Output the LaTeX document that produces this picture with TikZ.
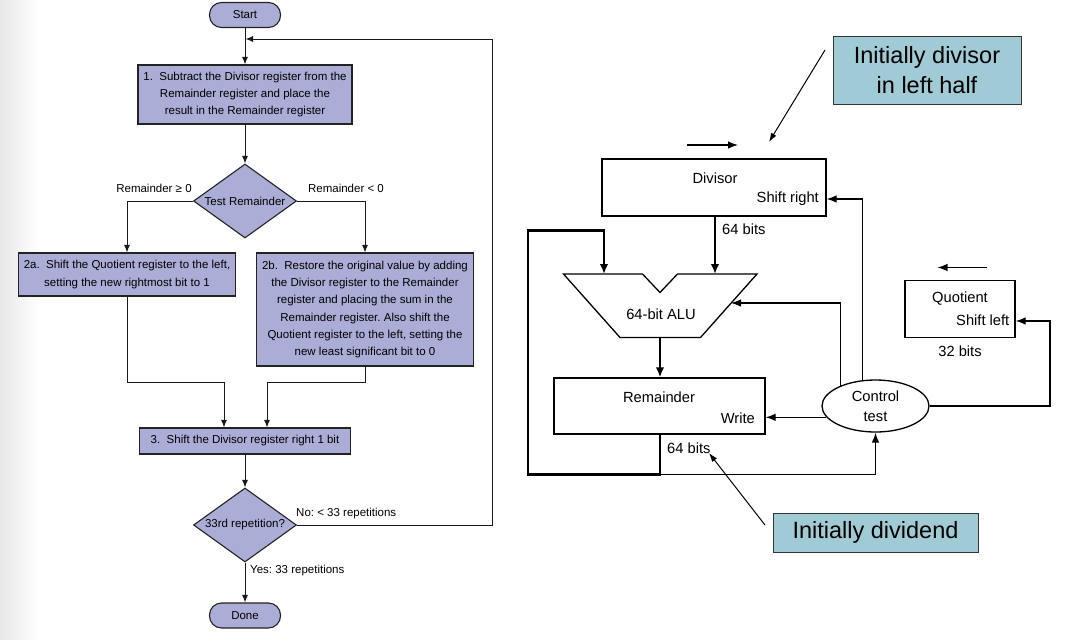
\documentclass[tikz,border=0pt]{standalone}
\usepackage{fontspec}
\setmainfont{Liberation Sans}
\usetikzlibrary{arrows.meta,shapes.geometric,calc}
\definecolor{lav}{RGB}{170,173,214}
\definecolor{callblue}{RGB}{160,203,213}
\definecolor{edge}{RGB}{35,35,35}
\frenchspacing
\begin{document}
\begin{tikzpicture}[x=1pt,y=-1pt,
  fc/.style={fill=lav, draw=edge, line width=1.1pt, font=\fontsize{11.5}{17.3}\selectfont, align=center, inner sep=0pt},
  fbox/.style={fc, rectangle},
  pill/.style={fc, rounded corners=12pt, minimum width=71pt, minimum height=25pt},
  dmd/.style={fc, diamond, minimum width=103pt, minimum height=74pt, aspect=1.39},
  fl/.style={draw=black!90, line width=1pt, -{Latex[length=7.5pt,width=6pt]}},
  lbl/.style={font=\fontsize{11.5}{13}\selectfont, inner sep=0pt},
  reg/.style={draw=black, line width=1.3pt, rectangle, inner sep=0pt},
  rt/.style={font=\fontsize{14.7}{20}\selectfont, inner sep=0pt},
  thinarr/.style={draw=black, line width=1.2pt, -{Latex[length=10pt,width=7.5pt]}},
  thickarr/.style={draw=black, line width=2.6pt, line join=miter, -{Latex[length=10pt,width=8.5pt]}},
  call/.style={fill=callblue, draw=black!80, line width=1pt, font=\fontsize{23.5}{29.3}\selectfont, align=center, inner sep=0pt},
  pointer/.style={draw=black, line width=1pt, -{Latex[length=9pt,width=6pt]}}
]
\useasboundingbox (0,0) rectangle (1088,640);
\fill[white] (0,0) rectangle (1088,640);
\shade[left color=black!9, right color=white] (0,0) rectangle (40,640);

% ---------- flowchart ----------
\node[pill] (start) at (245,15) {Start};
\node[fbox, minimum width=214pt, minimum height=59pt] (s1) at (245,94.5)
  {1.\ \ Subtract the Divisor register from the\\Remainder register and place the\\result in the Remainder register};
\node[dmd] (test) at (245,201) {Test Remainder};
\node[fbox, minimum width=217pt, minimum height=43pt] (s2a) at (127,274.5)
  {2a.\ \ Shift the Quotient register to the left,\\setting the new rightmost bit to 1};
\node[fbox, minimum width=217pt, minimum height=113pt] (s2b) at (365,309.5)
  {2b.\ \ Restore the original value by adding\\the Divisor register to the Remainder\\register and placing the sum in the\\Remainder register. Also shift the\\Quotient register to the left, setting the\\new least significant bit to 0};
\node[fbox, minimum width=211pt, minimum height=26pt] (s3) at (245,441)
  {3.\ \ Shift the Divisor register right 1 bit};
\node[dmd] (rep) at (245,525) {33rd repetition?};
\node[pill] (done) at (245,615.5) {Done};

\node[lbl] (lge) at (154,188) {Remainder ≥ 0};
\node[lbl] (llt) at (346,188) {Remainder < 0};
\node[lbl, anchor=west] (lno) at (296,514) {No: < 33 repetitions};
\node[lbl, anchor=west] (lyes) at (250,571) {Yes: 33 repetitions};

\draw[fl] (start) -- (s1);
\draw[fl] (s1) -- (test);
\draw[fl] (test.west) -| (s2a.north);
\draw[fl] (test.east) -| (s2b.north);
\coordinate (m1) at (224,382);
\coordinate (m2) at (267,382);
\draw[fl] (s2a.south) |- (m1) -- (m1 |- s3.north);
\draw[fl] (s2b.south) |- (m2) -- (m2 |- s3.north);
\draw[fl] (s3) -- (rep);
\draw[fl] (rep) -- (done);
\coordinate (rtop) at (492,39);
\coordinate (fb) at (245.5,39);
\draw[fl] (rep.east) -| (rtop) -- (fb);

% ---------- hardware ----------
\node[reg, minimum width=224pt, minimum height=57pt] (div) at (714,187.5) {};
\node[rt] (divn) at (715,178) {Divisor};
\node[rt, anchor=east] (divs) at (819,198.5) {Shift right};
\node[rt, anchor=west] (b64a) at (722,229) {64 bits};

\draw[line width=1.3pt, line join=miter] (563.5,274) -- (642.5,274) -- (660,292.5) -- (677.5,274) -- (757,274) -- (700.5,337.5) -- (620,337.5) -- cycle;
\node[rt] (alu) at (661,314.5) {64-bit ALU};

\node[reg, minimum width=211pt, minimum height=56pt] (rem) at (659.5,406) {};
\node[rt] (remn) at (659,397) {Remainder};
\node[rt, anchor=east] (remw) at (755,418) {Write};
\node[rt, anchor=west] (b64b) at (667,448) {64 bits};

\node[draw, ellipse, line width=1.3pt, minimum width=107pt, minimum height=52pt, inner sep=0pt, align=center, font=\fontsize{14.7}{20}\selectfont] (ctl) at (875.5,406) {Control\\test};

\node[reg, minimum width=110pt, minimum height=56.5pt] (quo) at (960,309) {};
\node[rt] (quon) at (960,299) {Quotient};
\node[rt, anchor=east] (quos) at (1009.5,320) {Shift left};
\node[rt] (b32) at (960,351.5) {32 bits};

\coordinate (aluL) at (604,274);
\coordinate (aluR) at (715,274);
\coordinate (aluC) at (731,303);
\coordinate (aluB) at (660,337.5);
\draw[thickarr] (aluR |- div.south) -- (aluR);
\draw[thickarr] (aluB) -- (aluB |- rem.north);
\coordinate (lp1) at (660,474.5);
\coordinate (lp2) at (528,474.5);
\coordinate (lp3) at (528,230.5);
\coordinate (lp4) at (604,230.5);
\draw[thickarr] (lp1 |- rem.south) -- (lp1) -- (lp2) -- (lp3) -- (lp4) -- (aluL);
\draw[thinarr] (lp1) -| (ctl.south);
\draw[thinarr] (ctl.150) |- (aluC);
\draw[thinarr] (ctl.117) |- ([yshift=-11.5pt]div.east);
\draw[thinarr] (ctl.193) -- (ctl.193 -| rem.east);
\coordinate (qr) at (1050,321);
\draw[thinarr] (ctl.east) -| (qr) -- ([yshift=-12pt]quo.east);

\coordinate (da1) at (687,145);
\coordinate (da2) at (738,145);
\draw[thinarr] (da1) -- (da2);
\coordinate (qa1) at (987,267.5);
\coordinate (qa2) at (937.5,267.5);
\draw[thinarr] (qa1) -- (qa2);

% ---------- callouts ----------
\node[call, minimum width=188pt, minimum height=68pt] (c1) at (927,70) {Initially divisor\\in left half};
\node[call, minimum width=205pt, minimum height=39pt] (c2) at (875.5,532.5) {Initially dividend};
\coordinate (c1a) at (825,50);
\coordinate (c1b) at (769,142);
\draw[pointer] (c1a) -- (c1b);
\coordinate (c2a) at (765,525);
\coordinate (c2b) at (709,453);
\draw[pointer] (c2a) -- (c2b);
\end{tikzpicture}
\end{document}
